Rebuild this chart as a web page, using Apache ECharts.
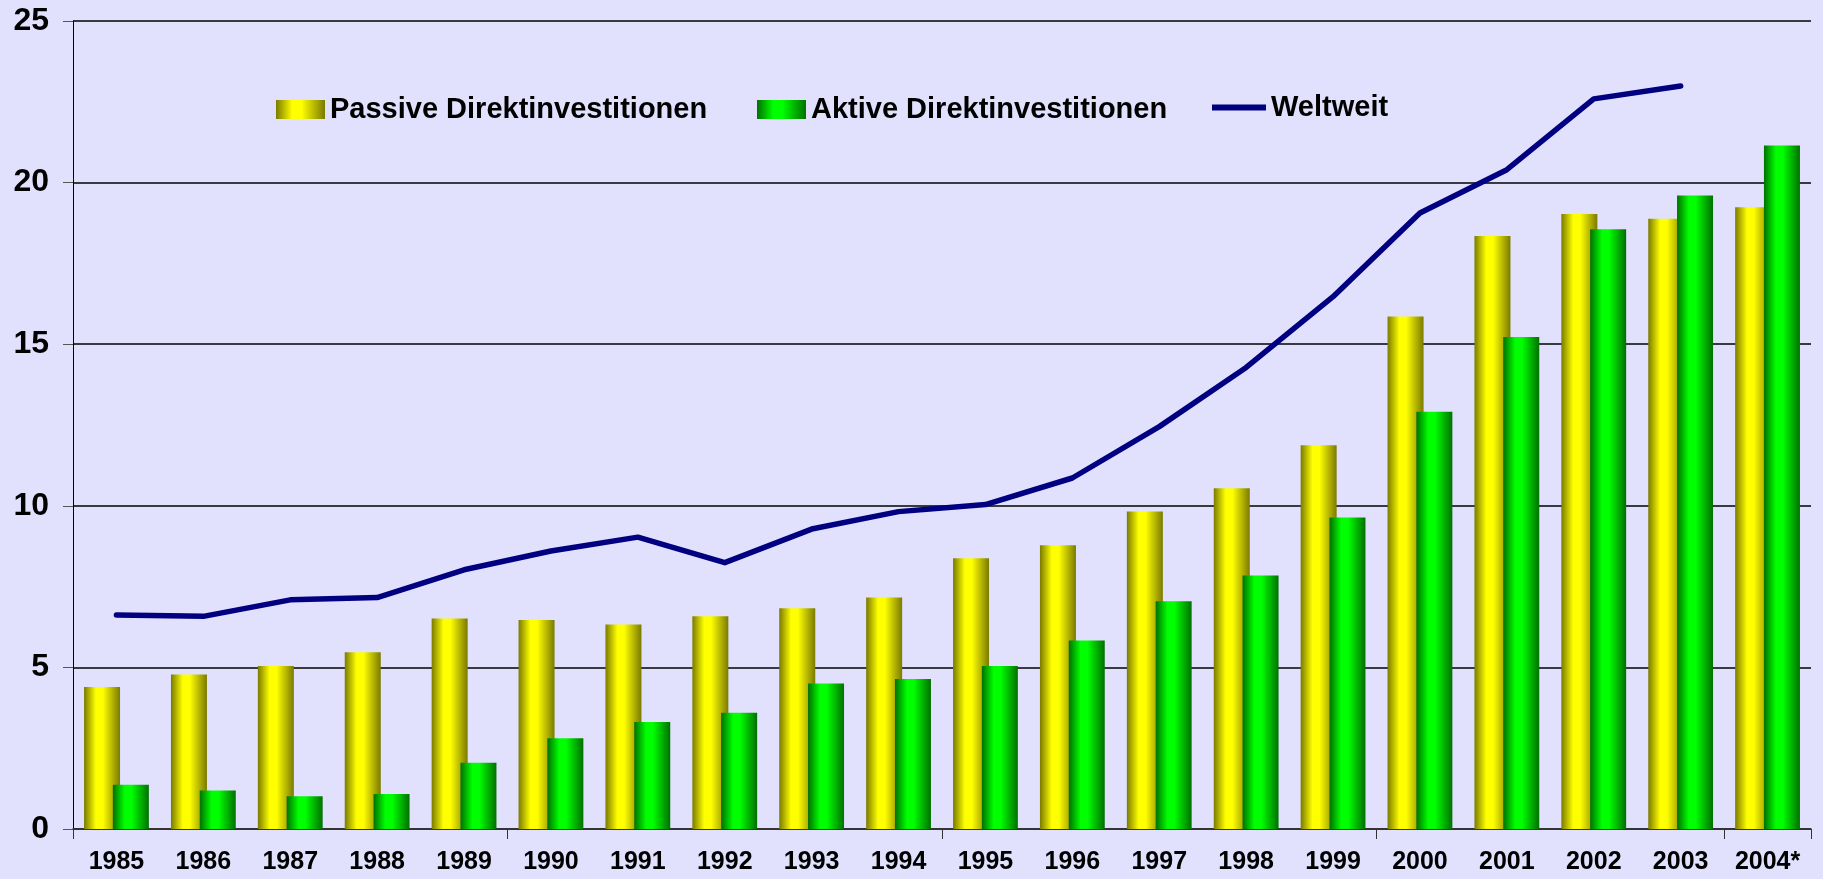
<!DOCTYPE html>
<html>
<head>
<meta charset="utf-8">
<script src="https://cdn.jsdelivr.net/npm/echarts@6/dist/echarts.min.js"></script>
<style>
  html, body { margin: 0; padding: 0; background: #E1E1FE; }
  #chart { width: 1823px; height: 879px; }
</style>
</head>
<body>
<div id="chart"></div>
<script>
var years = ["1985", "1986", "1987", "1988", "1989", "1990", "1991", "1992", "1993", "1994",
  "1995", "1996", "1997", "1998", "1999", "2000", "2001", "2002", "2003", "2004*"];

var passive = [4.39, 4.78, 5.04, 5.47, 6.51, 6.47, 6.33, 6.58, 6.83, 7.16,
  8.38, 8.78, 9.82, 10.54, 11.87, 15.86, 18.35, 19.03, 18.88, 19.24];

var aktive = [1.37, 1.19, 1.01, 1.08, 2.05, 2.81, 3.31, 3.6, 4.5, 4.64,
  5.04, 5.83, 7.05, 7.84, 9.64, 12.91, 15.22, 18.56, 19.6, 21.15];

// keine Angabe fuer 2004
var weltweit = [6.62, 6.58, 7.09, 7.16, 8.02, 8.6, 9.03, 8.24, 9.28, 9.82,
  10.04, 10.86, 12.45, 14.28, 16.47, 19.06, 20.4, 22.59, 22.99, null];

var yTicks = [0, 5, 10, 15, 20, 25];

var chart = echarts.init(document.getElementById("chart"));

var font = "'Liberation Sans', Arial, sans-serif";
var legendText = { fontSize: 29, fontWeight: "bold", color: "#000", fontFamily: font };

function bandGradient(dark, light) {
  return new echarts.graphic.LinearGradient(0, 0, 1, 0, [
    { offset: 0, color: dark },
    { offset: 0.33, color: light },
    { offset: 0.52, color: light },
    { offset: 1, color: dark }
  ]);
}

function barLegend(name, left) {
  return {
    left: left,
    top: 90,
    itemWidth: 49,
    itemHeight: 19,
    icon: "rect",
    textStyle: legendText,
    data: [name]
  };
}

var option = {
  backgroundColor: "#E1E1FE",
  animation: false,
  textStyle: { fontFamily: font },
  grid: { left: 73, right: 12, top: 21, bottom: 50, containLabel: false },
  legend: [
    barLegend("Passive Direktinvestitionen", 271),
    barLegend("Aktive Direktinvestitionen", 752),
    {
      left: 1207,
      top: 88,
      itemWidth: 54,
      itemHeight: 6,
      icon: "rect",
      textStyle: legendText,
      data: ["Weltweit"]
    }
  ],
  xAxis: {
    type: "category",
    data: years,
    boundaryGap: true,
    axisLine: { lineStyle: { color: "#333", width: 1.5 } },
    axisTick: { show: true, interval: 4, length: 10, lineStyle: { color: "#333" } },
    axisLabel: {
      interval: 0,
      margin: 21,
      fontSize: 25,
      fontWeight: "bold",
      color: "#000",
      fontFamily: font
    }
  },
  yAxis: {
    type: "value",
    min: yTicks[0],
    max: yTicks[yTicks.length - 1],
    interval: 5,
    axisLine: { show: true, lineStyle: { color: "#000", width: 1 } },
    axisTick: { show: true, length: 10, lineStyle: { color: "#555" } },
    splitLine: { lineStyle: { color: "#000", width: 1.5 } },
    axisLabel: {
      margin: 24,
      fontSize: 32,
      fontWeight: "bold",
      color: "#000",
      fontFamily: font
    }
  },
  series: [
    {
      name: "Passive Direktinvestitionen",
      type: "bar",
      data: passive,
      barWidth: 36,
      barGap: "-20%",
      itemStyle: { color: bandGradient("#7a7a00", "#ffff00") }
    },
    {
      name: "Aktive Direktinvestitionen",
      type: "bar",
      data: aktive,
      barWidth: 36,
      barGap: "-20%",
      itemStyle: { color: bandGradient("#007000", "#00ff00") }
    },
    {
      name: "Weltweit",
      type: "line",
      data: weltweit,
      symbol: "none",
      z: 5,
      lineStyle: { color: "#000080", width: 5.5, cap: "round", join: "round" },
      itemStyle: { color: "#000080" }
    }
  ]
};

chart.setOption(option);
</script>
</body>
</html>
